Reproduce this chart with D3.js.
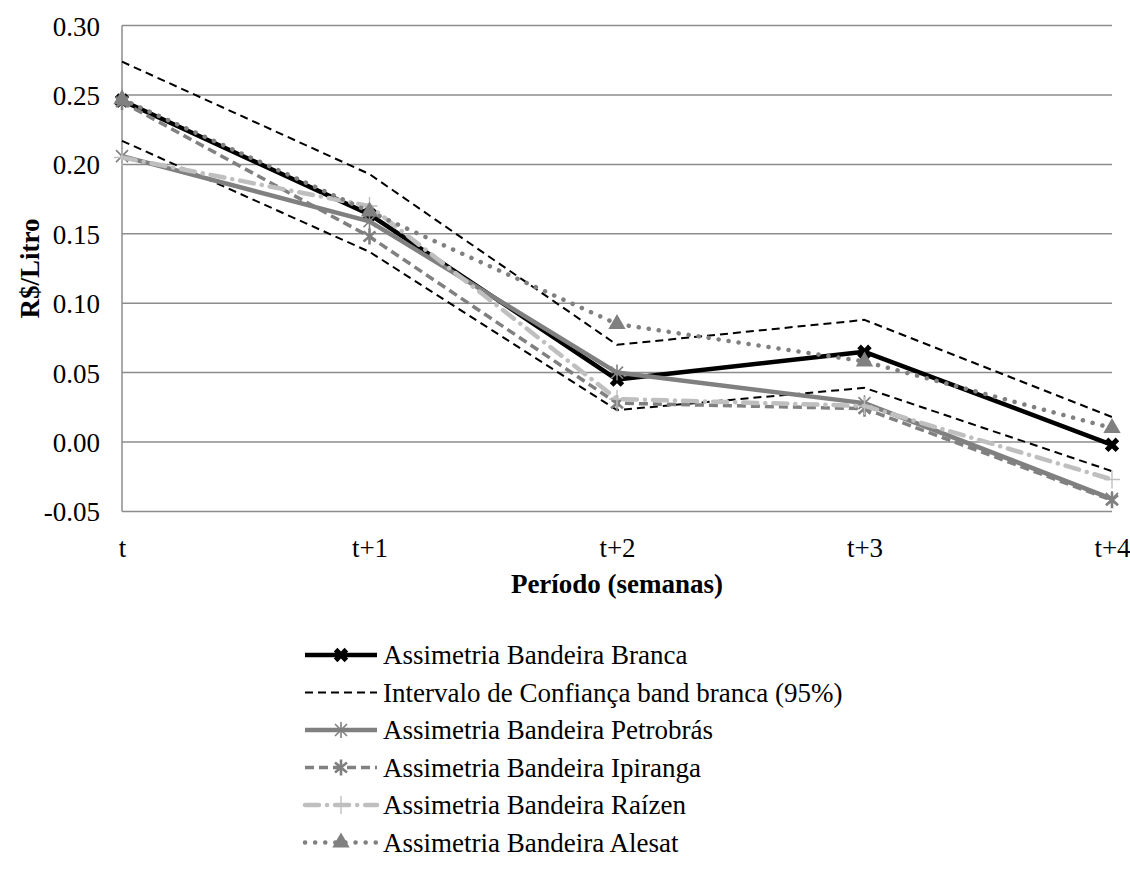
<!DOCTYPE html>
<html><head><meta charset="utf-8">
<script src="https://cdn.jsdelivr.net/npm/d3@7"></script>
<style>body{margin:0;background:#fff}svg{display:block}text{font-family:"Liberation Serif","Times New Roman",serif}</style>
</head><body><svg id="c" width="1130" height="893" font-family="Liberation Serif"></svg>
<script>
const categories = ["t","t+1","t+2","t+3","t+4"];
const yTicks = [-0.05,0,0.05,0.10,0.15,0.20,0.25,0.30];
const branca    = [0.246, 0.164, 0.045, 0.065, -0.002];
const ciUpper   = [0.274, 0.193, 0.070, 0.088, 0.018];
const ciLower   = [0.217, 0.137, 0.023, 0.039, -0.021];
const petrobras = [0.206, 0.159, 0.050, 0.028, -0.041];
const ipiranga  = [0.245, 0.148, 0.028, 0.024, -0.042];
const raizen    = [0.205, 0.170, 0.031, 0.026, -0.027];
const alesat    = [0.247, 0.166, 0.085, 0.058, 0.010];
const legendLabels = ["Assimetria Bandeira Branca","Intervalo de Confiança band branca (95%)","Assimetria Bandeira Petrobrás","Assimetria Bandeira Ipiranga","Assimetria Bandeira Raízen","Assimetria Bandeira Alesat"];

const FS = 27;
const svg = d3.select("#c");
const L=122, R=1112, T=25.6, B=511.4;
const x = d3.scalePoint().domain(categories).range([L,R]);
const y = d3.scaleLinear().domain([-0.05,0.30]).range([B,T]);

// gridlines
svg.append("g").selectAll("line").data(yTicks).join("line")
  .attr("x1",L).attr("x2",R).attr("y1",d=>y(d)).attr("y2",d=>y(d))
  .attr("stroke","#8c8c8c").attr("stroke-width",1.5);
svg.append("line").attr("x1",L).attr("x2",L).attr("y1",T).attr("y2",B).attr("stroke","#8c8c8c").attr("stroke-width",1.5);

// axes via d3
const yAxis = svg.append("g").attr("transform",`translate(${L-22},0)`)
  .call(d3.axisLeft(y).tickValues(yTicks).tickFormat(d=>d.toFixed(2)).tickSize(0).tickPadding(0));
yAxis.select(".domain").remove();
yAxis.attr("font-family","Liberation Serif");
yAxis.selectAll("text").attr("font-size",FS).attr("fill","#000").attr("dy","0.35em");
const xAxis = svg.append("g").attr("transform",`translate(0,${B+36})`)
  .call(d3.axisBottom(x).tickSize(0).tickPadding(0));
xAxis.select(".domain").remove();
xAxis.attr("font-family","Liberation Serif");
xAxis.selectAll("text").attr("font-size",FS).attr("fill","#000").attr("dy","0.35em");

svg.append("text").attr("transform",`translate(30,${(T+B)/2}) rotate(-90)`).attr("text-anchor","middle")
  .attr("dy","0.35em").attr("font-size",FS).attr("font-weight","bold").text("R$/Litro");
svg.append("text").attr("x",(L+R)/2).attr("y",584).attr("dy","0.35em").attr("text-anchor","middle")
  .attr("font-size",FS).attr("font-weight","bold").text("Período (semanas)");

// marker shapes
const markers = {
  xbold: (g,c)=>g.append("path").attr("d",d3.symbol(d3.symbolCross,130)()).attr("transform","rotate(45)").attr("fill",c),
  asterisk: (g,c)=>g.append("path").attr("d","M-6,-6L6,6M-6,6L6,-6M0,-8L0,8").attr("stroke",c).attr("stroke-width",1.6).attr("fill","none"),
  star: (g,c)=>{g.append("path").attr("d","M-6,-5L6,5M-6,5L6,-5M0,-8L0,8").attr("stroke",c).attr("stroke-width",2.6).attr("fill","none");},
  plus: (g,c)=>g.append("path").attr("d","M-8,0L8,0M0,-9L0,9").attr("stroke",c).attr("stroke-width",1.4).attr("fill","none"),
  triangle: (g,c)=>g.append("path").attr("d",d3.symbol(d3.symbolTriangle,130)()).attr("fill",c),
  none: ()=>{}
};

const series = [
  {vals:branca, color:"#000", w:4.5, dash:null, cap:"butt", marker:"xbold", legend:0},
  {vals:ciUpper, color:"#000", w:2, dash:"8,5", cap:"butt", marker:"none", legend:1},
  {vals:ciLower, color:"#000", w:2, dash:"8,5", cap:"butt", marker:"none", legend:-1},
  {vals:petrobras, color:"#808080", w:4.5, dash:null, cap:"butt", marker:"asterisk", legend:2},
  {vals:ipiranga, color:"#808080", w:3.5, dash:"9,5", cap:"butt", marker:"star", legend:3},
  {vals:raizen, color:"#bfbfbf", w:4.5, dash:"14,8,0.1,8", cap:"round", marker:"plus", legend:4},
  {vals:alesat, color:"#808080", w:4.5, dash:"0.1,10", cap:"round", marker:"triangle", legend:5}
];

const line = d3.line().x((d,i)=>x(categories[i])).y(d=>y(d));
series.forEach(s=>{
  svg.append("path").attr("d",line(s.vals)).attr("fill","none").attr("stroke",s.color)
    .attr("stroke-width",s.w).attr("stroke-dasharray",s.dash).attr("stroke-linecap",s.cap).attr("stroke-linejoin","round");
  s.vals.forEach((v,i)=>{
    const g = svg.append("g").attr("transform",`translate(${x(categories[i])},${y(v)})`);
    markers[s.marker](g,s.color);
  });
});

// legend
const lx0=305, lx1=377, ly0=655, ldy=37.5;
series.filter(s=>s.legend>=0).forEach(s=>{
  const yy = ly0 + s.legend*ldy;
  svg.append("line").attr("x1",lx0).attr("x2",lx1).attr("y1",yy).attr("y2",yy).attr("stroke",s.color)
    .attr("stroke-width",s.w).attr("stroke-dasharray",s.dash).attr("stroke-linecap",s.cap);
  const g = svg.append("g").attr("transform",`translate(${(lx0+lx1)/2},${yy})`);
  markers[s.marker](g,s.color);
  svg.append("text").attr("x",383).attr("y",yy).attr("dy","0.35em").attr("font-size",FS).text(legendLabels[s.legend]);
});
</script></body></html>
